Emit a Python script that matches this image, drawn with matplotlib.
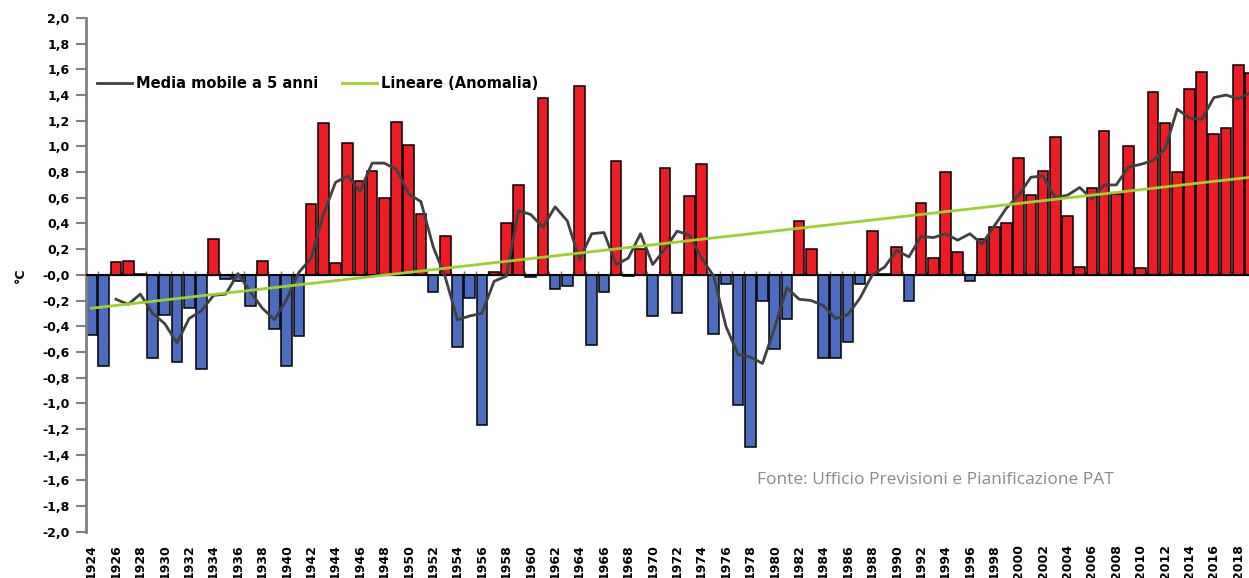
#!/usr/bin/env python3
import matplotlib
matplotlib.use("Agg")
import matplotlib.pyplot as plt
import numpy as np
from matplotlib.ticker import FixedLocator, FuncFormatter, NullFormatter

years = list(range(1924, 2020))
anomaly = [
    -0.47, -0.71, 0.10, 0.11, 0.01, -0.65, -0.31, -0.68, -0.26, -0.73,   # 1924-1933
    0.28, -0.03, -0.05, -0.24, 0.11, -0.42, -0.71, -0.48, 0.55, 1.18,     # 1934-1943
    0.09, 1.03, 0.73, 0.81, 0.60, 1.19, 1.01, 0.47, -0.13, 0.30,          # 1944-1953
    -0.56, -0.18, -1.17, 0.02, 0.40, 0.70, -0.02, 1.38, -0.11, -0.09,     # 1954-1963
    1.47, -0.55, -0.13, 0.89, -0.01, 0.20, -0.32, 0.83, -0.30, 0.61,      # 1964-1973
    0.86, -0.46, -0.07, -1.01, -1.34, -0.20, -0.58, -0.34, 0.42, 0.20,    # 1974-1983
    -0.65, -0.65, -0.52, -0.07, 0.34, 0.01, 0.22, -0.20, 0.56, 0.13,      # 1984-1993
    0.80, 0.18, -0.05, 0.28, 0.37, 0.40, 0.91, 0.62, 0.81, 1.07,          # 1994-2003
    0.46, 0.06, 0.68, 1.12, 0.63, 1.00, 0.05, 1.42, 1.18, 0.80,           # 2004-2013
    1.45, 1.58, 1.10, 1.14, 1.63, 1.57,                                   # 2014-2019
]

# 5-year moving average
ma_years = list(range(1926, 2020))
ma_values = [
    -0.19, -0.23, -0.15, -0.30, -0.38, -0.53, -0.34, -0.28, -0.16, -0.15,  # 1926-1935
    0.01, -0.13, -0.26, -0.35, -0.19, 0.02, 0.13, 0.47, 0.72, 0.77,        # 1936-1945
    0.65, 0.87, 0.87, 0.82, 0.63, 0.57, 0.22, -0.02, -0.35, -0.32,         # 1946-1955
    -0.30, -0.05, -0.01, 0.50, 0.47, 0.37, 0.53, 0.42, 0.12, 0.32,         # 1956-1965
    0.33, 0.08, 0.13, 0.32, 0.08, 0.20, 0.34, 0.31, 0.13, -0.01,           # 1966-1975
    -0.40, -0.62, -0.64, -0.69, -0.41, -0.10, -0.19, -0.20, -0.24, -0.34,  # 1976-1985
    -0.31, -0.18, 0.00, 0.06, 0.19, 0.14, 0.30, 0.29, 0.32, 0.27,          # 1986-1995
    0.32, 0.24, 0.38, 0.52, 0.62, 0.76, 0.77, 0.60, 0.62, 0.68,            # 1996-2005
    0.59, 0.70, 0.70, 0.84, 0.86, 0.89, 0.98, 1.29, 1.22, 1.21,            # 2006-2015
    1.38, 1.40, 1.37, 1.42,                                                # 2016-2019
]

trend_years = [1924, 2019]
trend_values = [-0.26, 0.76]

RED = "#ec1c24"
BLUE = "#4d6cc0"


def main():
    fig = plt.figure(figsize=(12.49, 5.78), dpi=100)
    ax = fig.add_axes([0.0689, 0.0801, 0.9311, 0.8888])

    colors = [RED if v >= 0 else BLUE for v in anomaly]
    ax.bar(years, anomaly, width=0.88, color=colors, edgecolor="black",
           linewidth=1.1, zorder=2)
    ax.axhline(0, color="black", linewidth=1.5, zorder=3)

    ax.plot(ma_years, ma_values, color="#404040", linewidth=2.0, zorder=4,
            label="Media mobile a 5 anni")
    ax.plot(trend_years, trend_values, color="#9dcf2e", linewidth=2.0, zorder=5,
            label="Lineare (Anomalia)")

    ax.set_xlim(1923.55, 2018.88)
    ax.set_ylim(-2.0, 2.0)

    ax.set_yticks(np.round(np.arange(-2.0, 2.01, 0.2), 1))
    ax.yaxis.set_major_formatter(FuncFormatter(lambda v, p: f"{v:.1f}".replace(".", ",")))
    ax.tick_params(axis="y", direction="out", length=7, width=1.5, color="#808080",
                   pad=5, labelsize=9)
    for lab in ax.get_yticklabels():
        lab.set_fontweight("bold")

    ax.set_xticks(years[::2])
    ax.set_xticklabels([str(y) for y in years[::2]], rotation=90, fontsize=9,
                       fontweight="bold")
    ax.tick_params(axis="x", length=0, pad=9)

    # small category ticks on the zero line
    sec = ax.secondary_xaxis(0.5)
    sec.xaxis.set_major_locator(FixedLocator([y + 0.5 for y in years]))
    sec.xaxis.set_major_formatter(NullFormatter())
    sec.tick_params(axis="x", direction="out", length=3, width=1, color="#707070")
    sec.spines["bottom"].set_visible(False)

    for side in ["top", "right", "bottom"]:
        ax.spines[side].set_visible(False)
    ax.spines["left"].set_color("#808080")
    ax.spines["left"].set_linewidth(2.0)

    fig.text(0.016, 0.523, "°C", rotation=90, fontsize=9, fontweight="bold",
             ha="center", va="center")

    ax.legend(loc="center left", bbox_to_anchor=(-0.002, 0.873), ncol=2,
              frameon=False, handlelength=2.4, handletextpad=0.3,
              columnspacing=1.6, prop={"weight": "bold", "size": 10.5})

    fig.text(0.606, 0.162, "Fonte: Ufficio Previsioni e Pianificazione PAT",
             fontsize=12.5, color="#8a8a8a", family="Open Sans")

    fig.savefig("out.png", dpi=100)
    plt.close(fig)


if __name__ == "__main__":
    main()
